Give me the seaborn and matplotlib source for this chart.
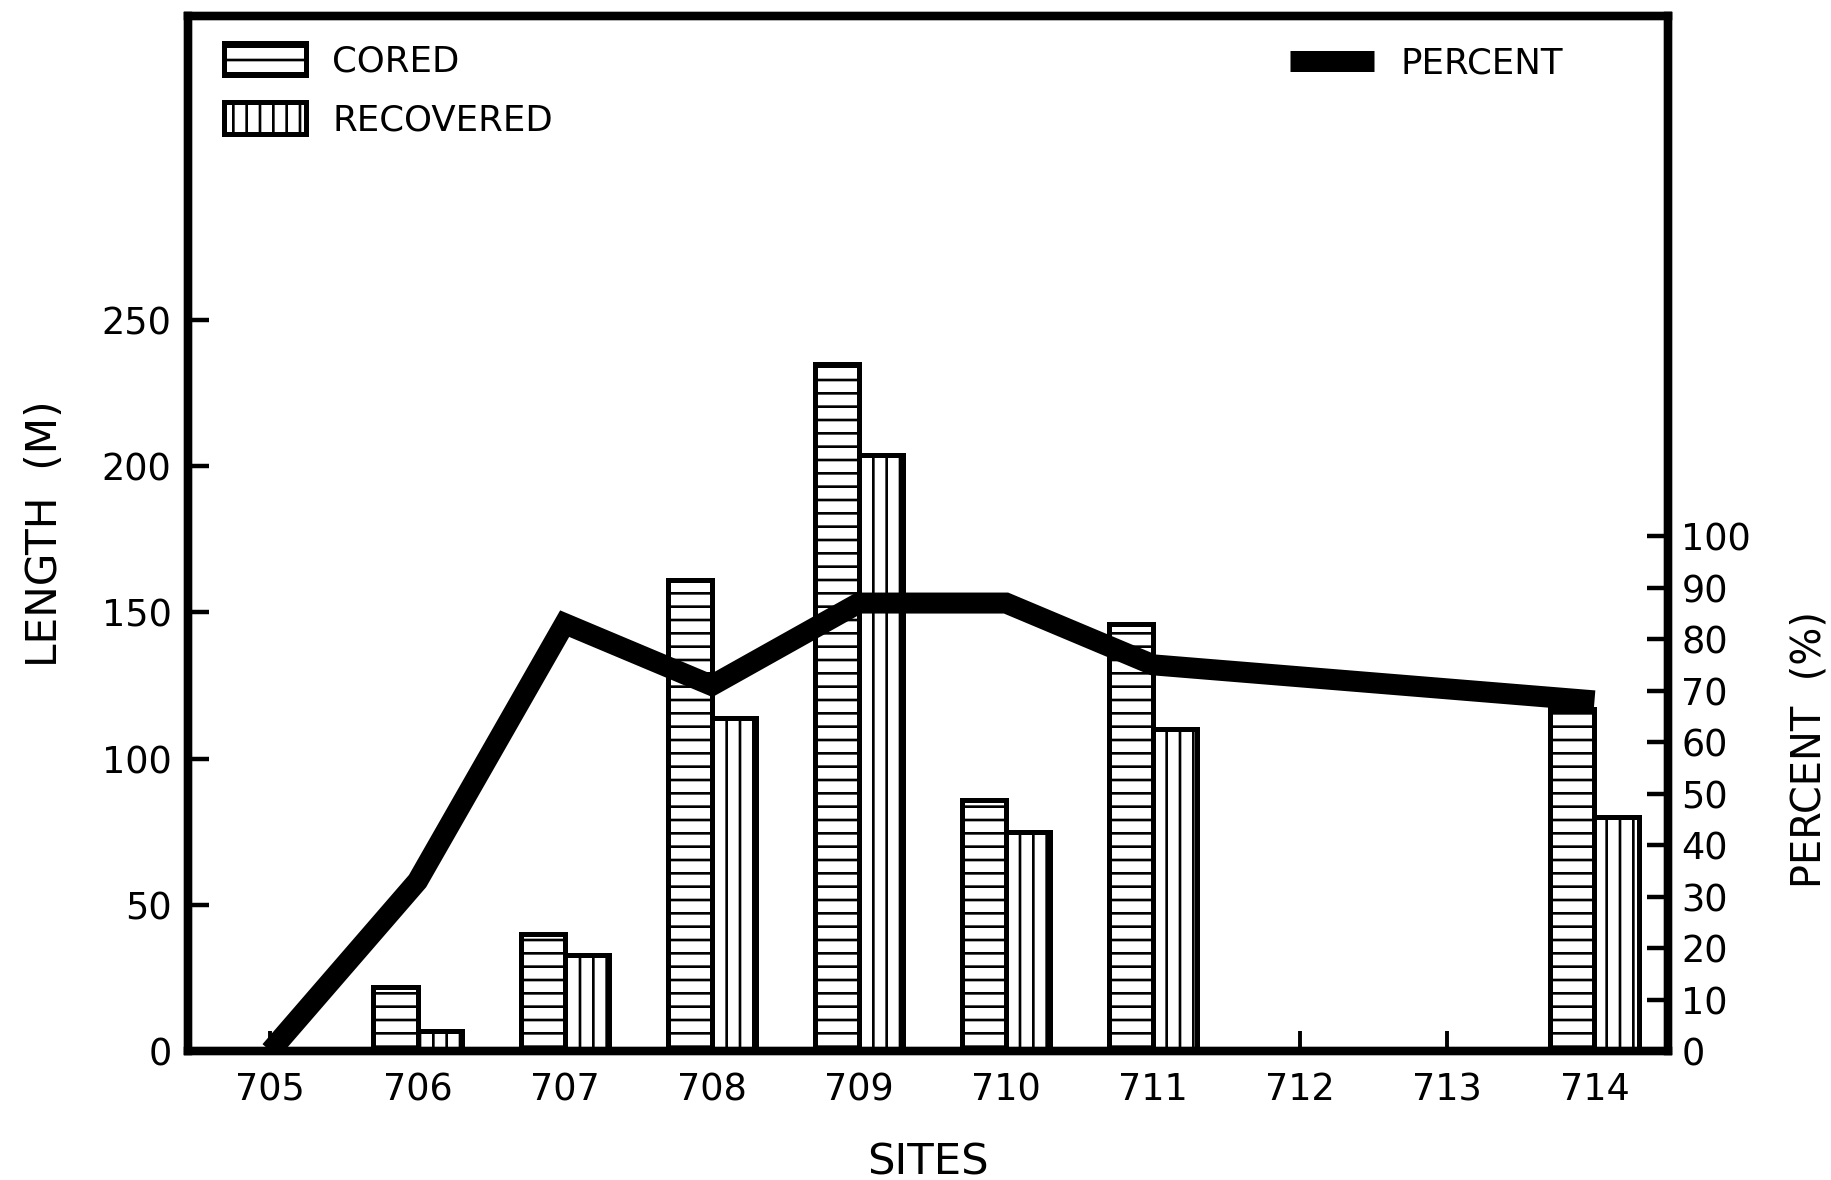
import numpy as np
import pandas as pd
import matplotlib
matplotlib.use('Agg')
import matplotlib.pyplot as plt
import matplotlib.patches as mpatches
from matplotlib.lines import Line2D
import seaborn as sns

# ---- data ----
sites = ['705', '706', '707', '708', '709', '710', '711', '712', '713', '714']
cored = [0, 22, 40, 161, 235, 86, 146, np.nan, np.nan, 117]
recovered = [0, 7, 33, 114, 204, 75, 110, np.nan, np.nan, 80]
percent = [0, 33, 83, 71, 87, 87, 75, np.nan, np.nan, 68]
length_ticks = [0, 50, 100, 150, 200, 250]
percent_ticks = list(range(0, 101, 10))
kinds = ['CORED', 'RECOVERED']

sns.set_style('white')
plt.rcParams['font.family'] = ['DejaVu Sans']
plt.rcParams['hatch.linewidth'] = 2.4
plt.rcParams['hatch.color'] = 'black'
for k in ['text.color', 'axes.labelcolor', 'xtick.color', 'ytick.color', 'axes.edgecolor']:
    plt.rcParams[k] = 'black'

DPI = 80
fig = plt.figure(figsize=(1831 / DPI, 1180 / DPI), dpi=DPI)
fig.patch.set_facecolor('white')
ax = fig.add_axes([0.1027, 0.1093, 0.8083, 0.8771])

df = pd.DataFrame({
    'site': sites * 2,
    'kind': [kinds[0]] * len(sites) + [kinds[1]] * len(sites),
    'length': cored + recovered,
}).dropna()

sns.barplot(data=df, x='site', y='length', hue='kind', order=sites, hue_order=kinds,
            palette=['white', 'white'], saturation=1, width=0.6, dodge=True,
            errorbar=None, edgecolor='black', linewidth=4.5, legend=False, ax=ax)

hatches = {kinds[0]: '-', kinds[1]: '|'}
for cont, kind in zip(ax.containers, kinds):
    for bar in cont:
        bar.set_hatch(hatches[kind])

ax.set_xlim(-0.56, 9.5)
ax.set_ylim(0, 354)
ax.set_yticks(length_ticks)
ax.tick_params(axis='y', direction='in', length=19, width=4, labelsize=33, pad=15, left=True)
ax.tick_params(axis='x', direction='in', length=18, width=3.5, labelsize=33, pad=18, bottom=True)
ax.set_xlabel('SITES', fontsize=39, labelpad=30)
ax.set_ylabel('LENGTH  (M)', fontsize=38, labelpad=32)

ax2 = ax.twinx()
pdf = pd.DataFrame({'x': np.arange(len(sites)), 'percent': percent}).dropna()
sns.lineplot(data=pdf, x='x', y='percent', ax=ax2, color='black', linewidth=18.9,
             solid_joinstyle='miter', solid_capstyle='butt', legend=False,
             estimator=None, sort=False)
ax2.set_ylim(0, 201)
ax2.set_xlim(-0.56, 9.5)
ax2.set_yticks(percent_ticks)
ax2.tick_params(axis='y', direction='in', length=19, width=4, labelsize=33, pad=12, right=True)
ax2.set_ylabel('PERCENT  (%)', fontsize=36, rotation=90)
ax2.yaxis.set_label_coords(1.082, 0.291)

for a in (ax, ax2):
    for s in a.spines.values():
        s.set_visible(True)
        s.set_linewidth(7.5)
        s.set_color('black')

h1 = mpatches.Patch(facecolor='white', edgecolor='black', hatch='-', linewidth=4.5, label=kinds[0])
h2 = mpatches.Patch(facecolor='white', edgecolor='black', hatch='|', linewidth=4.5, label=kinds[1])
leg1 = ax2.legend(handles=[h1, h2], loc='upper left', bbox_to_anchor=(0.0243, 0.9735),
                  frameon=False, fontsize=32, handlelength=2.3, handleheight=1.0,
                  handletextpad=0.75, labelspacing=0.66, borderpad=0, borderaxespad=0)
ax2.add_artist(leg1)
h3 = Line2D([], [], color='black', linewidth=18.9, solid_capstyle='butt')
ax2.legend(handles=[h3], labels=['PERCENT'], loc='upper left', bbox_to_anchor=(0.7446, 0.971),
           frameon=False, fontsize=32, handlelength=2.36, handletextpad=0.75,
           borderpad=0, borderaxespad=0)

fig.savefig('out.png', dpi=DPI)
